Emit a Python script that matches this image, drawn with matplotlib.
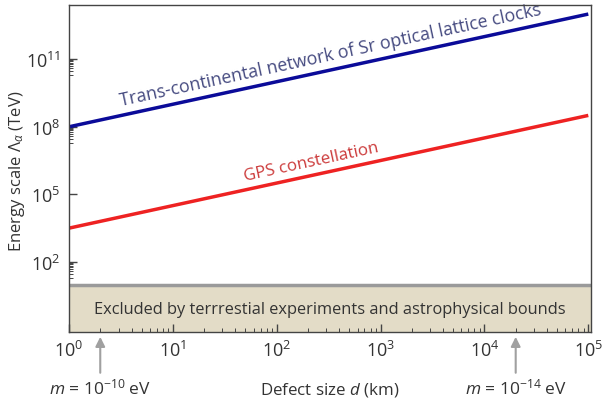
import numpy as np
import matplotlib
matplotlib.use("Agg")
import matplotlib.pyplot as plt
from matplotlib.ticker import FixedLocator, NullFormatter, LogFormatterMathtext

plt.rcParams['font.family'] = ['Open Sans', 'DejaVu Sans']
plt.rcParams['mathtext.fontset'] = 'custom'
plt.rcParams['mathtext.rm'] = 'Open Sans'
plt.rcParams['mathtext.it'] = 'Open Sans:italic'

# data
d_km = [1.0, 1e5]
sr_clocks = [1e8, 1e13]
gps = [3.2e3, 3.2e8]
excluded_top = 10.0
arrow_d = [2.0, 2.0e4]
arrow_labels = [r'$m$ = 10$^{-10}$ eV', r'$m$ = 10$^{-14}$ eV']
x_major = [1, 10, 100, 1e3, 1e4, 1e5]
y_major = [1e2, 1e5, 1e8, 1e11]

fig = plt.figure(figsize=(6.02, 4.06), dpi=100)
ax = fig.add_axes([0.1146, 0.18, 0.867, 0.805])
ax.set_xscale('log')
ax.set_yscale('log')
ax.set_xlim(1, 1.06e5)
ax.set_ylim(0.08, 2.5e13)

ax.axhspan(ax.get_ylim()[0], excluded_top, color='#e3dcc7', zorder=1, lw=0)
ax.axhline(excluded_top, color='#9a9a9a', lw=2.5, zorder=2)
ax.text(np.sqrt(1.06e5), 0.85, 'Excluded by terrrestial experiments and astrophysical bounds',
        ha='center', va='center', fontsize=11.8, color='#333333', zorder=3)

ax.plot(d_km, sr_clocks, color='#0b0b99', lw=2.5, zorder=4, solid_capstyle='butt')
ax.plot(d_km, gps, color='#ee2222', lw=2.5, zorder=4, solid_capstyle='butt')

fig.canvas.draw()
p0 = ax.transData.transform((d_km[0], sr_clocks[0]))
p1 = ax.transData.transform((d_km[1], sr_clocks[1]))
ang = np.degrees(np.arctan2(p1[1] - p0[1], p1[0] - p0[0]))

xb = 10 ** 2.55
ax.annotate('Trans-continental network of Sr optical lattice clocks',
            xy=(xb, 1e8 * xb), xytext=(-1.0, 4.0), textcoords='offset points',
            rotation=ang, rotation_mode='anchor', ha='center', va='bottom',
            fontsize=12.8, color='#454a80', zorder=5)
xr = 10 ** 2.36
ax.annotate('GPS constellation', xy=(xr, 3.2e3 * xr), xytext=(-1.0, 4.0),
            textcoords='offset points', rotation=ang, rotation_mode='anchor',
            ha='center', va='bottom', fontsize=12.2, color='#cc3a3a', zorder=5)

ax.xaxis.set_major_locator(FixedLocator(x_major))
ax.xaxis.set_major_formatter(LogFormatterMathtext())
xminor = [j * 10 ** k for k in range(0, 5) for j in range(2, 10)]
ax.xaxis.set_minor_locator(FixedLocator(xminor))
ax.xaxis.set_minor_formatter(NullFormatter())

ax.yaxis.set_major_locator(FixedLocator(y_major))
ax.yaxis.set_major_formatter(LogFormatterMathtext())
yminor = [j * m / 10 for m in [1e2, 1e8, 1e11] for j in range(2, 10)]
ax.yaxis.set_minor_locator(FixedLocator(yminor))
ax.yaxis.set_minor_formatter(NullFormatter())

ax.tick_params(which='both', direction='in', color='#444444', zorder=6)
ax.tick_params(which='major', length=6, width=1, labelsize=13, labelcolor='#333333', pad=6)
ax.tick_params(which='minor', length=3, width=0.7)
for s in ax.spines.values():
    s.set_color('#444444')
    s.set_linewidth(1.0)
    s.set_zorder(7)

ax.set_xlabel(r'Defect size $d$ (km)', fontsize=12.2, color='#333333', labelpad=14)
fig.text(17 / 602, 1 - 171 / 406, r'Energy scale $\mathit{\Lambda}_\alpha$ (TeV)', rotation=90,
         ha='center', va='center', fontsize=12, color='#333333')

for xd, lab in zip(arrow_d, arrow_labels):
    ax.annotate('', xy=(xd, -0.015), xycoords=('data', 'axes fraction'),
                xytext=(xd, -0.125), textcoords=('data', 'axes fraction'),
                arrowprops=dict(arrowstyle='-|>', color='#a0a0a0', lw=1.5,
                                mutation_scale=14, shrinkA=0, shrinkB=0),
                annotation_clip=False)
    ax.text(xd, -0.14, lab, transform=ax.get_xaxis_transform(), ha='center', va='top',
            fontsize=12.5, color='#333333', clip_on=False)

fig.savefig('out.png', dpi=100)
